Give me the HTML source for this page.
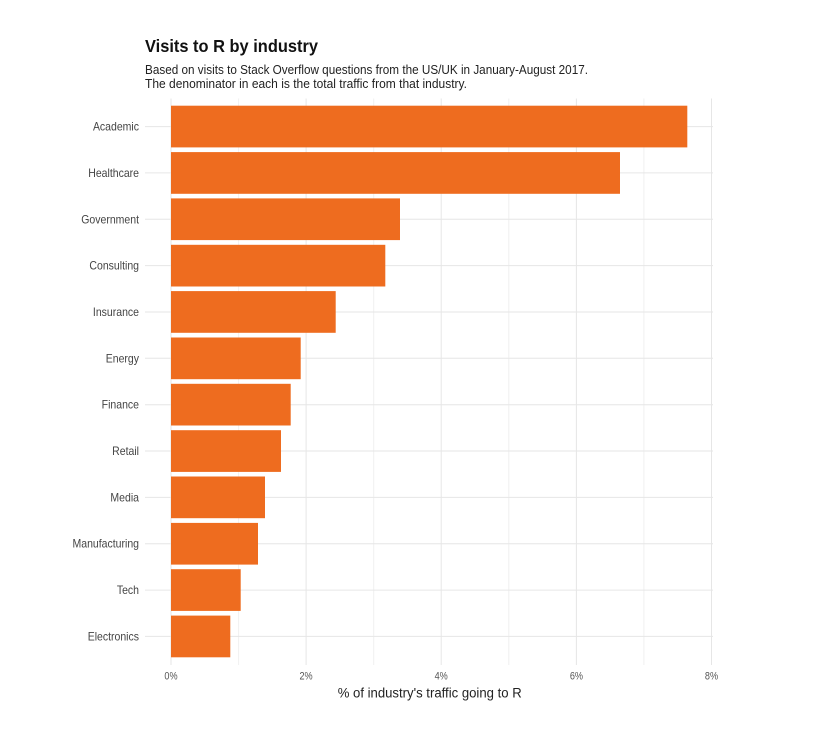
<!DOCTYPE html>
<html>
<head>
<meta charset="utf-8">
<style>
  html, body { margin: 0; padding: 0; background: #ffffff; }
  svg { display: block; }
  text { font-family: "Liberation Sans", Arial, sans-serif; }
</style>
</head>
<body>
<svg width="837" height="736" viewBox="0 0 837 736" xmlns="http://www.w3.org/2000/svg">
  <rect x="0" y="0" width="837" height="736" fill="#ffffff"/>

  <!-- Title & subtitle -->
  <text x="145" y="52" font-size="17.5" font-weight="bold" fill="#111" textLength="173" lengthAdjust="spacingAndGlyphs">Visits to R by industry</text>
  <text x="145" y="74" font-size="12.8" fill="#222" textLength="443" lengthAdjust="spacingAndGlyphs">Based on visits to Stack Overflow questions from the US/UK in January-August 2017.</text>
  <text x="145" y="88" font-size="12.8" fill="#222" textLength="322" lengthAdjust="spacingAndGlyphs">The denominator in each is the total traffic from that industry.</text>

  <!-- vertical gridlines -->
  <g stroke="#e6e6e6" stroke-width="1">
    <line x1="171" y1="98.5" x2="171" y2="665"/>
    <line x1="238.6" y1="98.5" x2="238.6" y2="665" stroke="#f0f0f0"/>
    <line x1="306.1" y1="98.5" x2="306.1" y2="665"/>
    <line x1="373.7" y1="98.5" x2="373.7" y2="665" stroke="#f0f0f0"/>
    <line x1="441.2" y1="98.5" x2="441.2" y2="665"/>
    <line x1="508.8" y1="98.5" x2="508.8" y2="665" stroke="#f0f0f0"/>
    <line x1="576.4" y1="98.5" x2="576.4" y2="665"/>
    <line x1="643.9" y1="98.5" x2="643.9" y2="665" stroke="#f0f0f0"/>
    <line x1="711.5" y1="98.5" x2="711.5" y2="665"/>
  </g>

  <!-- horizontal gridlines -->
  <g stroke="#e6e6e6" stroke-width="1">
    <line x1="145" y1="126.6" x2="713" y2="126.6"/>
    <line x1="145" y1="172.9" x2="713" y2="172.9"/>
    <line x1="145" y1="219.3" x2="713" y2="219.3"/>
    <line x1="145" y1="265.6" x2="713" y2="265.6"/>
    <line x1="145" y1="312.0" x2="713" y2="312.0"/>
    <line x1="145" y1="358.3" x2="713" y2="358.3"/>
    <line x1="145" y1="404.7" x2="713" y2="404.7"/>
    <line x1="145" y1="451.0" x2="713" y2="451.0"/>
    <line x1="145" y1="497.4" x2="713" y2="497.4"/>
    <line x1="145" y1="543.7" x2="713" y2="543.7"/>
    <line x1="145" y1="590.1" x2="713" y2="590.1"/>
    <line x1="145" y1="636.4" x2="713" y2="636.4"/>
  </g>

  <!-- bars -->
  <g fill="#EE6C1F">
    <rect x="171" y="105.7" width="516.3" height="41.7"/>
    <rect x="171" y="152.1" width="449.0" height="41.7"/>
    <rect x="171" y="198.4" width="229.0" height="41.7"/>
    <rect x="171" y="244.8" width="214.3" height="41.7"/>
    <rect x="171" y="291.1" width="164.7" height="41.7"/>
    <rect x="171" y="337.5" width="129.7" height="41.7"/>
    <rect x="171" y="383.8" width="119.7" height="41.7"/>
    <rect x="171" y="430.2" width="110.0" height="41.7"/>
    <rect x="171" y="476.5" width="94.0" height="41.7"/>
    <rect x="171" y="522.9" width="87.0" height="41.7"/>
    <rect x="171" y="569.2" width="69.7" height="41.7"/>
    <rect x="171" y="615.6" width="59.3" height="41.7"/>
  </g>

  <!-- y labels -->
  <g transform="scale(0.913,1)" font-size="11.5" fill="#444" text-anchor="end">
    <text x="152.25" y="130.6">Academic</text>
    <text x="152.25" y="176.9">Healthcare</text>
    <text x="152.25" y="223.3">Government</text>
    <text x="152.25" y="269.6">Consulting</text>
    <text x="152.25" y="316.0">Insurance</text>
    <text x="152.25" y="362.3">Energy</text>
    <text x="152.25" y="408.7">Finance</text>
    <text x="152.25" y="455.0">Retail</text>
    <text x="152.25" y="501.4">Media</text>
    <text x="152.25" y="547.7">Manufacturing</text>
    <text x="152.25" y="594.1">Tech</text>
    <text x="152.25" y="640.4">Electronics</text>
  </g>

  <!-- x tick labels -->
  <g transform="scale(0.8,1)" font-size="11.4" fill="#555" text-anchor="middle">
    <text x="213.75" y="679.5">0%</text>
    <text x="382.6" y="679.5">2%</text>
    <text x="551.5" y="679.5">4%</text>
    <text x="720.5" y="679.5">6%</text>
    <text x="889.4" y="679.5">8%</text>
  </g>

  <!-- x axis title -->
  <text x="429.7" y="697.3" font-size="14.2" fill="#222" text-anchor="middle" textLength="184" lengthAdjust="spacingAndGlyphs">% of industry's traffic going to R</text>
</svg>
</body>
</html>
